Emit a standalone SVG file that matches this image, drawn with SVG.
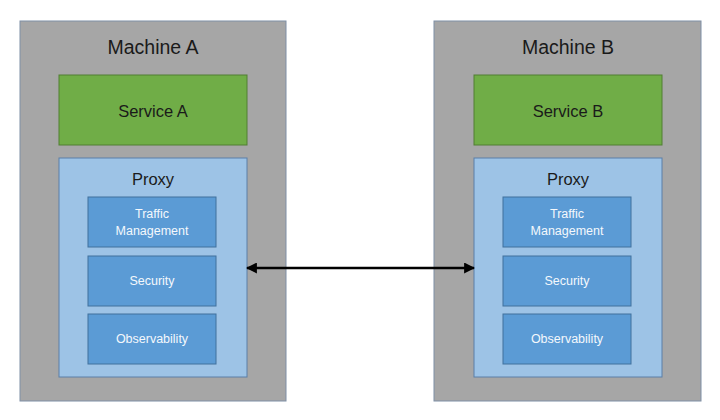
<svg xmlns="http://www.w3.org/2000/svg" width="720" height="420" viewBox="0 0 720 420">
<defs>
<style>
.machine{fill:#a6a6a6;stroke:#7f8fa6;stroke-width:1}
.service{fill:#70ad47;stroke:#507e32;stroke-width:1}
.proxy{fill:#9dc3e6;stroke:#5a7fa8;stroke-width:1}
.module{fill:#5b9bd5;stroke:#41719c;stroke-width:1}
.t{font-family:"Liberation Sans",Arial,sans-serif;text-anchor:middle;fill:#1a1a1a}
.big{font-size:19.5px}
.mid{font-size:16.5px}
.small{font-size:12.5px;fill:#f4f8fc}
.conn{stroke:#000;stroke-width:2.5;fill:none}
</style>
<marker id="ah" viewBox="0 0 10 10" refX="9" refY="5" markerWidth="4.4" markerHeight="4.4" orient="auto-start-reverse">
<path d="M0,0 L10,5 L0,10 z" fill="#000"/>
</marker>
</defs>
<rect width="720" height="420" fill="#fff"/>
<g id="machineA">
<rect class="machine" x="20" y="21" width="266" height="380"/>
<text class="t big" x="153" y="54">Machine A</text>
</g>
<g id="serviceA">
<rect class="service" x="59" y="75" width="188" height="70"/>
<text class="t mid" x="153" y="117">Service A</text>
</g>
<g id="proxyA">
<rect class="proxy" x="59" y="158" width="188" height="219"/>
<text class="t mid" x="153" y="185">Proxy</text>
</g>
<g id="trafficA">
<rect class="module" x="88" y="197" width="128" height="50"/>
<text class="t small" x="152" y="218">Traffic</text>
<text class="t small" x="152" y="235">Management</text>
</g>
<g id="securityA">
<rect class="module" x="88" y="256" width="128" height="50"/>
<text class="t small" x="152" y="285">Security</text>
</g>
<g id="observabilityA">
<rect class="module" x="88" y="314" width="128" height="50"/>
<text class="t small" x="152" y="343">Observability</text>
</g>
<g id="machineB">
<rect class="machine" x="434" y="21" width="267" height="380"/>
<text class="t big" x="568" y="54">Machine B</text>
</g>
<g id="serviceB">
<rect class="service" x="474" y="75" width="188" height="70"/>
<text class="t mid" x="568" y="117">Service B</text>
</g>
<g id="proxyB">
<rect class="proxy" x="474" y="158" width="188" height="219"/>
<text class="t mid" x="568" y="185">Proxy</text>
</g>
<g id="trafficB">
<rect class="module" x="503" y="197" width="128" height="50"/>
<text class="t small" x="567" y="218">Traffic</text>
<text class="t small" x="567" y="235">Management</text>
</g>
<g id="securityB">
<rect class="module" x="503" y="256" width="128" height="50"/>
<text class="t small" x="567" y="285">Security</text>
</g>
<g id="observabilityB">
<rect class="module" x="503" y="314" width="128" height="50"/>
<text class="t small" x="567" y="343">Observability</text>
</g>
<g id="connectors">
<line class="conn" x1="247" y1="268" x2="474" y2="268" marker-start="url(#ah)" marker-end="url(#ah)"/>
</g>
</svg>
